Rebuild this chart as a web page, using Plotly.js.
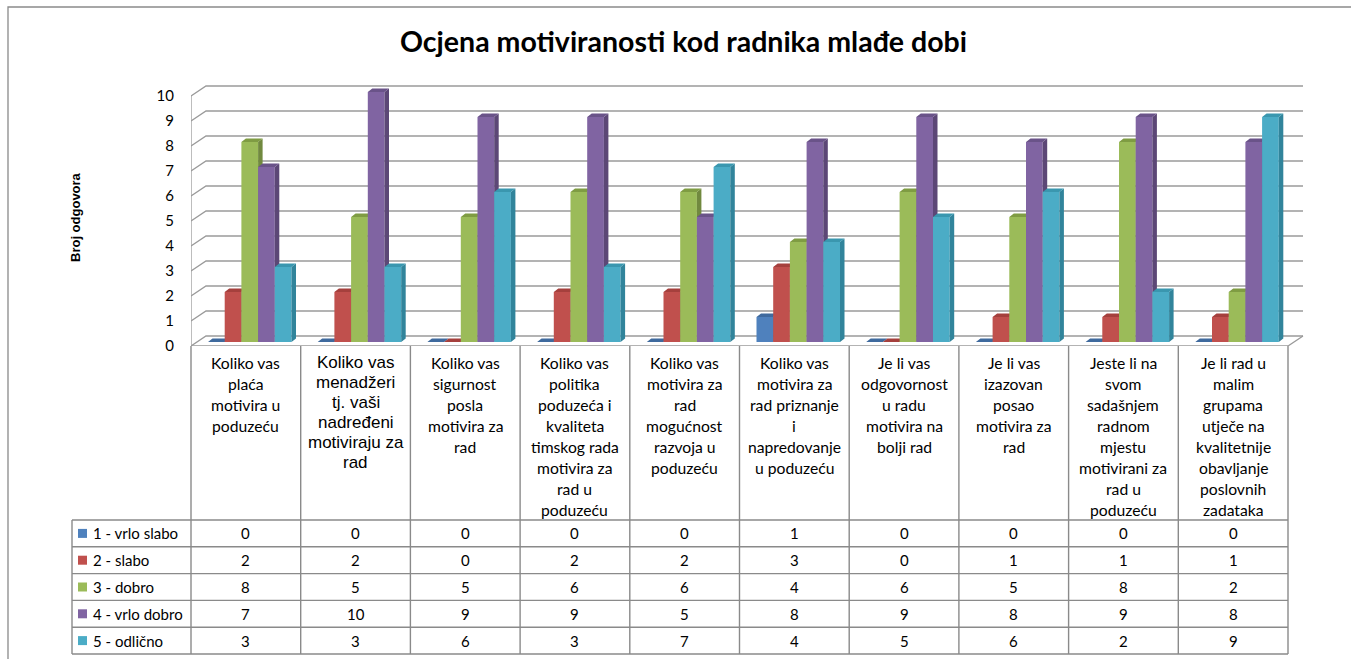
<!DOCTYPE html>
<html><head><meta charset="utf-8">
<script src="https://cdn.plot.ly/plotly-3.0.1.min.js"></script>
<style>html,body{margin:0;padding:0;background:#fff;}#chart{width:1351px;height:659px;}</style>
</head><body><div id="chart"></div>
<script>
// ---------------- DATA ----------------
const categories = [
  "Koliko vas<br>plaća<br>motivira u<br>poduzeću",
  "Koliko vas<br>menadžeri<br>tj. vaši<br>nadređeni<br>motiviraju za<br>rad",
  "Koliko vas<br>sigurnost<br>posla<br>motivira za<br>rad",
  "Koliko vas<br>politika<br>poduzeća i<br>kvaliteta<br>timskog rada<br>motivira za<br>rad u<br>poduzeću",
  "Koliko vas<br>motivira za<br>rad<br>mogućnost<br>razvoja u<br>poduzeću",
  "Koliko vas<br>motivira za<br>rad priznanje<br>i<br>napredovanje<br>u poduzeću",
  "Je li vas<br>odgovornost<br>u radu<br>motivira na<br>bolji rad",
  "Je li vas<br>izazovan<br>posao<br>motivira za<br>rad",
  "Jeste li na<br>svom<br>sadašnjem<br>radnom<br>mjestu<br>motivirani za<br>rad u<br>poduzeću",
  "Je li rad u<br>malim<br>grupama<br>utječe na<br>kvalitetnije<br>obavljanje<br>poslovnih<br>zadataka"
];
const seriesNames = ["1 - vrlo slabo", "2 - slabo", "3 - dobro", "4 - vrlo dobro", "5 - odlično"];
const vrloSlabo = [0, 0, 0, 0, 0, 1, 0, 0, 0, 0];
const slabo     = [2, 2, 0, 2, 2, 3, 0, 1, 1, 1];
const dobro     = [8, 5, 5, 6, 6, 4, 6, 5, 8, 2];
const vrloDobro = [7, 10, 9, 9, 5, 8, 9, 8, 9, 8];
const odlicno   = [3, 3, 6, 3, 7, 4, 5, 6, 2, 9];
const yTicks = [0, 1, 2, 3, 4, 5, 6, 7, 8, 9, 10];
const titleText = "Ocjena motiviranosti kod radnika mlađe dobi";
const yTitleText = "Broj odgovora";

// ---------------- STYLE / GEOMETRY ----------------
const seriesValues = [vrloSlabo, slabo, dobro, vrloDobro, odlicno];
const frontColors = ["#4F81BD", "#C0504D", "#9BBB59", "#8064A2", "#4BACC6"];
const sideColors  = ["#385D8A", "#8C3A38", "#71893F", "#5C4776", "#31849B"];
const topColors   = ["#3F6A9E", "#A5403D", "#7F9C43", "#6A5389", "#3A97AF"];

const W = 1351, H = 659;
const PL = 191, PR = 1305, PB = 346, PT = 84;   // plot area in px
const UX = 109.7, UY = 25;                        // px per category / per unit
const X1 = (PR - PL) / UX, Y1 = (PB - PT) / UY;
const nCat = categories.length;
const dxB = 15 / UX, dyB = 10 / UY;               // back-wall depth offset
const BASE = 4 / UY;                              // bars stand slightly back
const BX0 = 17 / UX;                              // first bar offset in category
const BW = 16.7 / UX;                             // bar width
const ddx = 4.5 / UX, ddy = 3.5 / UY;             // bar depth

const px2x = p => (p - PL) / (PR - PL);
const px2y = p => (PB - p) / (PB - PT);

const traces = [];
// gridlines on back wall + side wall diagonals
let gx = [], gy = [];
yTicks.forEach(k => {
  gx.push(0, dxB, nCat + dxB, null);
  gy.push(k, k + dyB, k + dyB, null);
});
// floor front + right edge, left wall front edge
gx.push(0, nCat, nCat + dxB, null, 0, 0);
gy.push(0, 0, dyB, null, 0, yTicks[yTicks.length - 1]);
traces.push({type: "scatter", mode: "lines", x: gx, y: gy, hoverinfo: "skip",
  line: {color: "#9a9a9a", width: 1.3}, showlegend: false});

// 3D bars as polygons
seriesValues.forEach((vals, s) => {
  const fx = [], fy = [], sx = [], sy = [], tx = [], ty = [];
  vals.forEach((v, c) => {
    const x0 = c + BX0 + s * BW, x1 = x0 + BW, yb = BASE, yt = BASE + v;
    fx.push(x0, x1, x1, x0, null); fy.push(yb, yb, yt, yt, null);
    sx.push(x1, x1 + ddx, x1 + ddx, x1, null); sy.push(yb, yb + ddy, yt + ddy, yt, null);
    tx.push(x0, x1, x1 + ddx, x0 + ddx, null); ty.push(yt, yt, yt + ddy, yt + ddy, null);
  });
  const mk = (x, y, col) => ({type: "scatter", mode: "lines", x, y, fill: "toself",
    fillcolor: col, line: {width: 0, color: col}, hoverinfo: "skip", showlegend: false});
  traces.push(mk(fx, fy, frontColors[s]));
  traces.push(mk(sx, sy, sideColors[s]));
  traces.push(mk(tx, ty, topColors[s]));
});

// ---------------- TABLE ----------------
const shapes = [], annotations = [];
const lineStyle = {color: "#8a8a8a", width: 1.4};
const HDR_BOTTOM = 520, RH = 26.8, LBL_LEFT = 72;
const nRows = seriesNames.length;
const tableBottom = HDR_BOTTOM + nRows * RH;
// outer chart border
shapes.push({type: "rect", xref: "paper", yref: "paper", x0: px2x(8), x1: px2x(W + 10), y0: px2y(H + 10), y1: px2y(7),
  line: {color: "#8a8a8a", width: 1.3}});
for (let i = 0; i <= nRows; i++) {
  const py = HDR_BOTTOM + i * RH;
  shapes.push({type: "line", xref: "paper", yref: "paper", x0: px2x(LBL_LEFT), x1: px2x(PL + nCat * UX), y0: px2y(py), y1: px2y(py), line: lineStyle});
}
for (let c = 0; c <= nCat; c++) {
  const px = PL + c * UX;
  shapes.push({type: "line", xref: "paper", yref: "paper", x0: px2x(px), x1: px2x(px), y0: px2y(PB), y1: px2y(tableBottom), line: lineStyle});
}
shapes.push({type: "line", xref: "paper", yref: "paper", x0: px2x(LBL_LEFT), x1: px2x(LBL_LEFT), y0: px2y(HDR_BOTTOM), y1: px2y(tableBottom), line: lineStyle});

const F = "Lato, 'Open Sans', sans-serif";
// header labels
categories.forEach((cat, c) => {
  const lines = cat.split("<br>");
  const special = c === 1;
  const first = special ? 362 : 363;
  const step = special ? 20 : 21;
  lines.forEach((ln, j) => {
    annotations.push({xref: "paper", yref: "paper", x: px2x(PL + (c + 0.5) * UX), y: px2y(first + j * step),
      text: ln, showarrow: false, xanchor: "center", yanchor: "middle",
      font: special ? {family: "'Liberation Sans', Arial, sans-serif", size: 17, color: "#000"} : {family: F, size: 15.7, color: "#000"}});
  });
});
// rows
seriesNames.forEach((name, s) => {
  const cy = HDR_BOTTOM + (s + 0.5) * RH;
  shapes.push({type: "rect", xref: "paper", yref: "paper", x0: px2x(78), x1: px2x(87), y0: px2y(cy + 4.5), y1: px2y(cy - 4.5),
    fillcolor: frontColors[s], line: {width: 0}});
  annotations.push({xref: "paper", yref: "paper", x: px2x(91), y: px2y(cy), text: name, showarrow: false,
    xanchor: "left", yanchor: "middle", font: {family: F, size: 15, color: "#000"}});
  seriesValues[s].forEach((v, c) => {
    annotations.push({xref: "paper", yref: "paper", x: px2x(PL + (c + 0.5) * UX), y: px2y(cy), text: String(v),
      showarrow: false, xanchor: "center", yanchor: "middle", font: {family: F, size: 15, color: "#000"}});
  });
});
// y-axis title
annotations.push({xref: "paper", yref: "paper", x: px2x(75), y: px2y(217), text: "<b>" + yTitleText + "</b>",
  textangle: -90, showarrow: false, xanchor: "center", yanchor: "middle",
  font: {family: "'Liberation Sans', Arial, sans-serif", size: 13, color: "#000"}});

const layout = {
  width: W, height: H,
  margin: {l: PL, r: W - PR, t: PT, b: H - PB, pad: 0},
  paper_bgcolor: "#fff", plot_bgcolor: "rgba(0,0,0,0)",
  showlegend: false,
  title: {text: "<b>" + titleText + "</b>", xref: "container", yref: "container", x: 683.5 / W, y: 1 - 42 / H,
    xanchor: "center", yanchor: "middle", font: {family: F, size: 28.5, color: "#000"}},
  xaxis: {range: [0, X1], showgrid: false, zeroline: false, showticklabels: false, ticks: "", showline: false, fixedrange: true},
  yaxis: {range: [0, Y1], showgrid: false, zeroline: false, showline: false, tickvals: yTicks, ticktext: yTicks.map(String),
    ticks: "outside", ticklen: 13, tickcolor: "rgba(0,0,0,0)", tickfont: {family: F, size: 15, color: "#000"}, fixedrange: true},
  shapes, annotations
};
Plotly.newPlot("chart", traces, layout, {displayModeBar: false, staticPlot: true});
</script>
</body></html>
